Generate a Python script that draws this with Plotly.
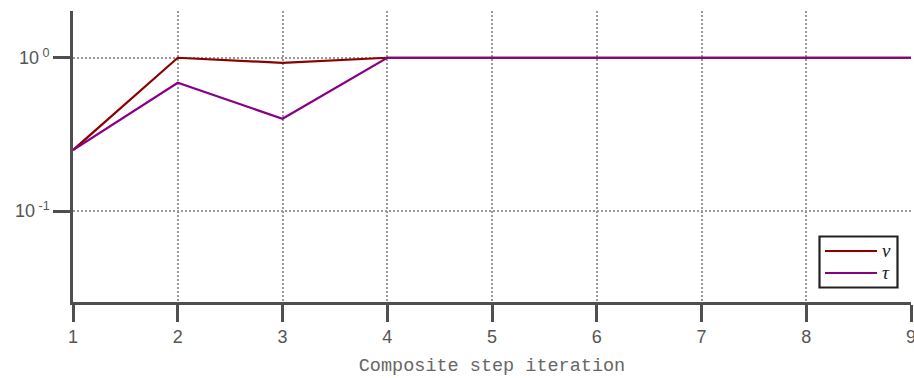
import plotly.graph_objects as go

iterations = [1, 2, 3, 4, 5, 6, 7, 8, 9]
nu_values = [0.25, 1.0, 0.927, 1.0, 1.0, 1.0, 1.0, 1.0, 1.0]
tau_values = [0.25, 0.687, 0.40, 1.0, 1.0, 1.0, 1.0, 1.0, 1.0]
x_ticks = [1, 2, 3, 4, 5, 6, 7, 8, 9]
y_tickvals = [0.1, 1.0]
y_ticktext = ["10<sup> -1</sup>", "10<sup> 0</sup>"]
series_names = ["ν", "τ"]
series_colors = ["#8b0000", "#880088"]

axis_color = "#4f4f4f"
text_color = "#555555"

# plot area in pixels (for the hand-drawn legend)
L, R, T, B = 73, 911, 11, 302
W, H = 914, 378
def px(x):
    return (x - L) / (R - L)
def py(y):
    return (B - y) / (B - T)

fig = go.Figure()
for vals, name, col in zip([nu_values, tau_values], series_names, series_colors):
    fig.add_trace(go.Scatter(x=iterations, y=vals, mode="lines", name=name,
                             line=dict(color=col, width=2.2), showlegend=False))

tick_font = dict(family="Liberation Sans, Arial, sans-serif", size=18, color=text_color)

fig.update_layout(
    width=W, height=H,
    margin=dict(l=L, r=W - R, t=T, b=H - B),
    plot_bgcolor="white", paper_bgcolor="white",
    font=tick_font,
    showlegend=False,
    xaxis=dict(
        range=[1, 9], tickvals=x_ticks, ticktext=[str(v) for v in x_ticks],
        tickfont=tick_font, ticklabeloverflow="allow", automargin=False,
        showline=True, linecolor=axis_color, linewidth=2.5,
        ticks="outside", ticklen=17, tickwidth=2.5, tickcolor=axis_color,
        showgrid=True, gridcolor="#999999", gridwidth=1.6, griddash="2px,2px",
        zeroline=False,
        title=dict(text="Composite step iteration", standoff=12,
                   font=dict(family="Liberation Mono, Courier New, monospace", size=18.5, color="#666666")),
    ),
    yaxis=dict(
        type="log", range=[-1.593, 0.305], automargin=False,
        tickvals=y_tickvals, ticktext=y_ticktext, tickfont=tick_font,
        showline=True, linecolor=axis_color, linewidth=2.5,
        ticks="outside", ticklen=17, tickwidth=2.5, tickcolor=axis_color,
        showgrid=True, gridcolor="#999999", gridwidth=1.6, griddash="2px,2px",
        zeroline=False,
    ),
)

# hand-drawn legend box matching the reference
fig.add_shape(type="rect", xref="paper", yref="paper",
              x0=px(819.5), x1=px(897.5), y0=py(287.5), y1=py(236.5),
              line=dict(color="#222222", width=2.2), fillcolor="white", layer="above")
for i, (name, col) in enumerate(zip(series_names, series_colors)):
    yy = 251 + 22 * i
    fig.add_shape(type="line", xref="paper", yref="paper",
                  x0=px(825), x1=px(877), y0=py(yy), y1=py(yy),
                  line=dict(color=col, width=2.2), layer="above")
    fig.add_annotation(xref="paper", yref="paper", x=px(880), y=py(yy - 1),
                       xanchor="left", yanchor="middle", showarrow=False,
                       text="<i>" + name + "</i>",
                       font=dict(family="Liberation Serif, DejaVu Serif, serif", size=19, color="#222222"))

fig.write_html("out.html")
